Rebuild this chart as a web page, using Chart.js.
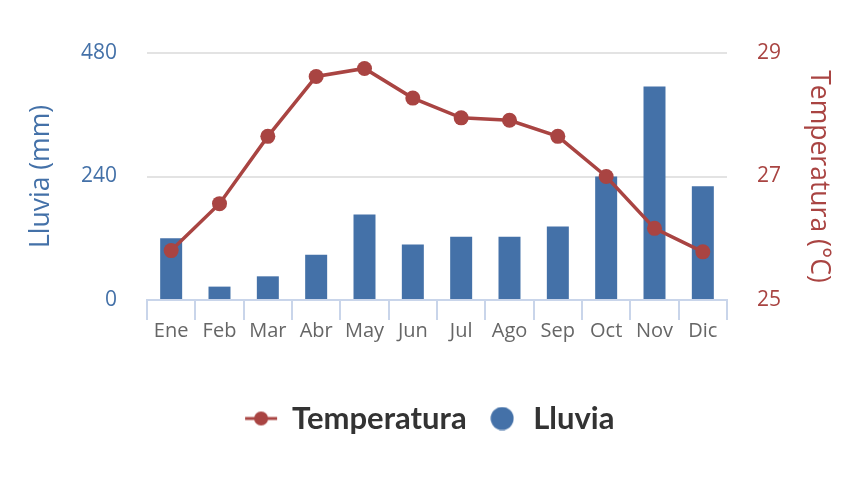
<!DOCTYPE html>
<html>
<head>
<meta charset="utf-8">
<script src="https://cdn.jsdelivr.net/npm/chart.js@4.4.0/dist/chart.umd.min.js"></script>
<style>
  html, body { margin: 0; padding: 0; background: #fff; }
  #wrap { width: 860px; height: 480px; }
</style>
</head>
<body>
<div id="wrap"><canvas id="chart" width="860" height="480"></canvas></div>
<script>
// Data
var meses = ["Ene", "Feb", "Mar", "Abr", "May", "Jun", "Jul", "Ago", "Sep", "Oct", "Nov", "Dic"];
var lluvia = [120, 26, 46, 88, 166, 108, 123, 123, 143, 240, 415, 221];
var temperatura = [25.8, 26.56, 27.65, 28.62, 28.75, 28.27, 27.95, 27.91, 27.65, 27.0, 26.16, 25.78];
var lluviaTicks = [0, 240, 480];
var tempTicks = [25, 27, 29];

var azul = "#4471a8";
var rojo = "#a94442";

// Legend marker for the line: a short line with a dot in the middle
function lineMarker() {
    var c = document.createElement("canvas");
    c.width = 34; c.height = 16;
    var g = c.getContext("2d");
    g.strokeStyle = rojo;
    g.lineWidth = 3;
    g.beginPath();
    g.moveTo(1, 8); g.lineTo(33, 8);
    g.stroke();
    g.fillStyle = rojo;
    g.beginPath();
    g.arc(17, 8, 7, 0, Math.PI * 2);
    g.fill();
    return c;
}
function dotMarker() {
    var c = document.createElement("canvas");
    c.width = 24; c.height = 24;
    var g = c.getContext("2d");
    g.fillStyle = azul;
    g.beginPath();
    g.arc(12, 12, 11.5, 0, Math.PI * 2);
    g.fill();
    return c;
}

var ctx = document.getElementById("chart");
var myChart = new Chart(ctx, {
    data: {
        labels: meses,
        datasets: [{
            type: "line",
            label: "Temperatura",
            data: temperatura,
            yAxisID: "yTemp",
            borderColor: rojo,
            backgroundColor: rojo,
            borderWidth: 3.5,
            pointRadius: 7.5,
            pointHoverRadius: 7.5,
            pointBackgroundColor: rojo,
            pointBorderWidth: 0,
            tension: 0,
            order: 0
        }, {
            type: "bar",
            label: "Lluvia",
            data: lluvia,
            yAxisID: "yLluvia",
            backgroundColor: azul,
            barPercentage: 0.455,
            categoryPercentage: 1,
            order: 1
        }]
    },
    options: {
        responsive: false,
        animation: false,
        layout: { padding: { left: 26, right: 26, top: 53, bottom: 36 } },
        plugins: {
            tooltip: { enabled: false },
            legend: {
                position: "bottom",
                labels: {
                    usePointStyle: true,
                    padding: 20,
                    color: "#333",
                    font: { family: "Lato", size: 31, weight: "bold" },
                    generateLabels: function (chart) {
                        return [
                            { text: "Temperatura", pointStyle: lineMarker(), fillStyle: rojo, strokeStyle: rojo, lineWidth: 0, datasetIndex: 0, fontColor: "#333" },
                            { text: "Lluvia", pointStyle: dotMarker(), fillStyle: azul, strokeStyle: azul, lineWidth: 0, datasetIndex: 1, fontColor: "#333" }
                        ];
                    }
                }
            }
        },
        scales: {
            x: {
                offset: true,
                afterFit: function (axis) { axis.height = 83; },
                grid: {
                    offset: true,
                    drawOnChartArea: false,
                    drawTicks: true,
                    tickLength: 20,
                    color: "#c9d5ea",
                    lineWidth: 2
                },
                border: { display: true, color: "#c9d5ea", width: 2 },
                ticks: {
                    color: "#666",
                    padding: -1,
                    font: { family: "Open Sans", size: 20 }
                }
            },
            yLluvia: {
                position: "left",
                min: 0,
                max: 480,
                afterBuildTicks: function (axis) {
                    axis.ticks = lluviaTicks.map(function (v) { return { value: v }; });
                },
                afterFit: function (axis) { axis.width = 121; },
                grid: { color: "#e3e3e3", lineWidth: 2, drawTicks: false },
                border: { display: false },
                ticks: {
                    color: azul,
                    padding: 30,
                    font: { family: "Open Sans", size: 21 }
                },
                title: {
                    display: true,
                    text: "Lluvia (mm)",
                    color: azul,
                    padding: 0,
                    font: { family: "Open Sans", size: 26.5 }
                }
            },
            yTemp: {
                position: "right",
                min: 25,
                max: 29,
                afterBuildTicks: function (axis) {
                    axis.ticks = tempTicks.map(function (v) { return { value: v }; });
                },
                afterFit: function (axis) { axis.width = 107; },
                grid: { drawOnChartArea: false, drawTicks: false },
                border: { display: false },
                ticks: {
                    color: rojo,
                    padding: 30,
                    font: { family: "Open Sans", size: 21 }
                },
                title: {
                    display: true,
                    text: "Temperatura (°C)",
                    color: rojo,
                    padding: 0,
                    font: { family: "Open Sans", size: 26.5 }
                }
            }
        }
    }
});
</script>
</body>
</html>
